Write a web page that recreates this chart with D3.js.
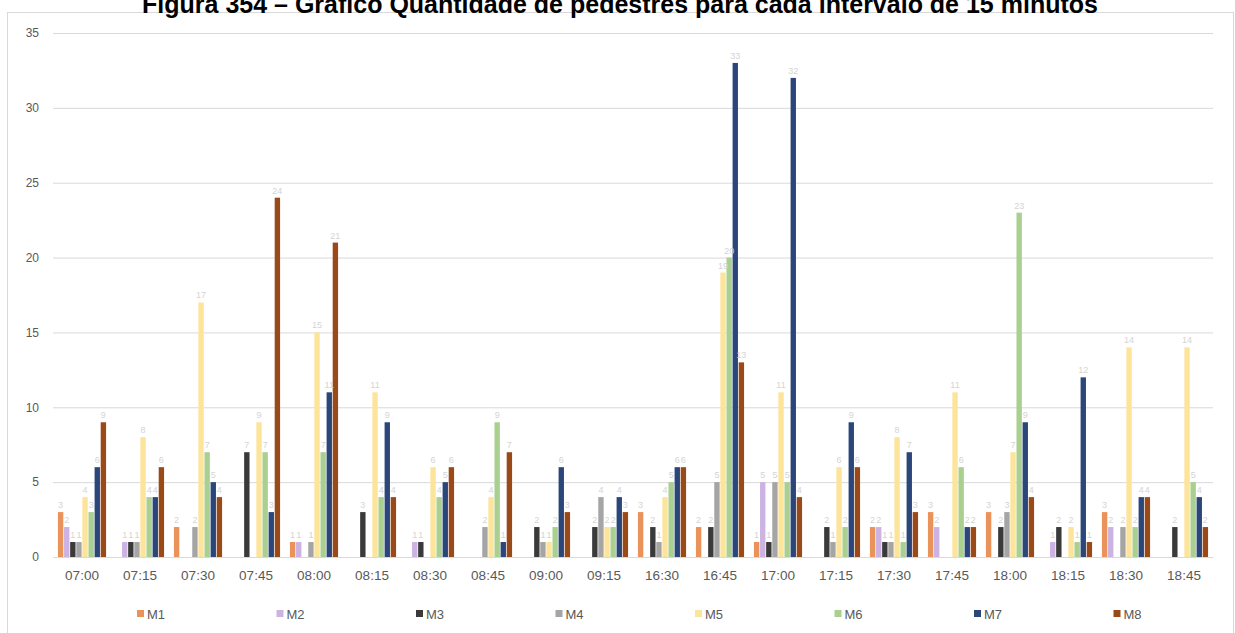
<!DOCTYPE html>
<html lang="pt">
<head>
<meta charset="utf-8">
<title>Figura 354</title>
<script src="https://d3js.org/d3.v7.min.js"></script>
<style>
  body { margin: 0; background: #fff; }
  svg text { font-family: "Liberation Sans", Arial, sans-serif; }
</style>
</head>
<body>
<div id="chart"></div>
<script>
// categories and series (null = blank cell, no bar)
const times = ["07:00","07:15","07:30","07:45","08:00","08:15","08:30","08:45","09:00","09:15",
               "16:30","16:45","17:00","17:15","17:30","17:45","18:00","18:15","18:30","18:45"];
const seriesNames = ["M1","M2","M3","M4","M5","M6","M7","M8"];
const colors = ["#e9925a","#cdb3e2","#3a3a3a","#a5a5a5","#fde49b","#a9d08e","#2b477a","#9a4a19"];

const M1 = [3,null,2,null,1,null,null,null,null,null,3,2,1,null,2,3,3,null,3,null];
const M2 = [2,1,null,null,1,null,1,null,null,null,null,null,5,null,2,2,null,1,2,null];
const M3 = [1,1,null,7,null,3,1,null,2,2,2,2,1,2,1,null,2,2,null,2];
const M4 = [1,1,2,null,1,null,null,2,1,4,1,5,5,1,1,null,3,null,2,null];
const M5 = [4,8,17,9,15,11,6,4,1,2,4,19,11,6,8,11,7,2,14,14];
const M6 = [3,4,7,7,7,4,4,9,2,2,5,20,5,2,1,6,23,1,2,5];
const M7 = [6,4,5,3,11,9,5,1,6,4,6,33,32,9,7,2,9,12,4,4];
const M8 = [9,6,4,24,21,4,6,7,3,3,6,13,4,6,3,2,4,1,4,2];
const series = [M1, M2, M3, M4, M5, M6, M7, M8];
const yTicks = [0,5,10,15,20,25,30,35];

const W = 1235, H = 633;
const plot = { left: 53, right: 1213, top: 33, bottom: 557 };

const svg = d3.select("#chart").append("svg")
  .attr("width", W).attr("height", H);

// outer chart border
svg.append("rect")
  .attr("x", 7.5).attr("y", 12.5)
  .attr("width", 1226).attr("height", 630)
  .attr("fill", "none").attr("stroke", "#d9d9d9");

// title (top is cut off in the original)
svg.append("text")
  .attr("x", 620).attr("y", 13)
  .attr("text-anchor", "middle")
  .attr("font-weight", "bold").attr("font-size", 25)
  .attr("fill", "#000")
  .text("Figura 354 – Gráfico Quantidade de pedestres para cada intervalo de 15 minutos");

const x0 = d3.scaleBand().domain(times).range([plot.left, plot.right])
  .paddingInner(0.17).paddingOuter(0.085);
const x1 = d3.scaleBand().domain(seriesNames).range([0, x0.bandwidth()]).paddingInner(0.12);
const y = d3.scaleLinear().domain([0, 35]).range([plot.bottom, plot.top]);

// gridlines
const yAxis = d3.axisLeft(y).tickValues(yTicks).tickSize(-(plot.right - plot.left)).tickPadding(14);
const gy = svg.append("g").attr("transform", `translate(${plot.left},0)`).call(yAxis);
gy.select(".domain").remove();
gy.selectAll("line").attr("stroke", "#d9d9d9");
gy.selectAll("text").attr("fill", "#595959").attr("font-size", 12);

// x axis
const xAxis = d3.axisBottom(x0).tickSize(0).tickPadding(13);
const gx = svg.append("g").attr("transform", `translate(0,${plot.bottom})`).call(xAxis);
gx.select(".domain").attr("stroke", "#d9d9d9");
gx.selectAll("text").attr("fill", "#595959").attr("font-size", 13.5);

// bars
const groups = svg.append("g").selectAll("g").data(times).join("g")
  .attr("transform", d => `translate(${x0(d)},0)`);

groups.each(function(t, i) {
  const g = d3.select(this);
  const vals = seriesNames.map((s, k) => ({ s, k, v: series[k][i] })).filter(d => d.v != null);
  g.selectAll("rect").data(vals).join("rect")
    .attr("x", d => x1(d.s))
    .attr("width", x1.bandwidth())
    .attr("y", d => y(d.v))
    .attr("height", d => y(0) - y(d.v))
    .attr("fill", d => colors[d.k]);
  g.selectAll("text").data(vals).join("text")
    .attr("x", d => x1(d.s) + x1.bandwidth() / 2)
    .attr("y", d => y(d.v) - 4)
    .attr("text-anchor", "middle")
    .attr("font-size", 9)
    .attr("fill", "#d4d4d4")
    .text(d => d.v);
});

// legend
const legend = svg.append("g").selectAll("g").data(seriesNames).join("g")
  .attr("transform", (d, i) => `translate(${137 + i * 139.5},614)`);
legend.append("rect").attr("x", 0).attr("y", -4).attr("width", 7).attr("height", 7)
  .attr("fill", (d, i) => colors[i]);
legend.append("text").attr("x", 10).attr("y", 0).attr("dy", "0.35em")
  .attr("font-size", 13).attr("fill", "#595959").text(d => d);
</script>
</body>
</html>
